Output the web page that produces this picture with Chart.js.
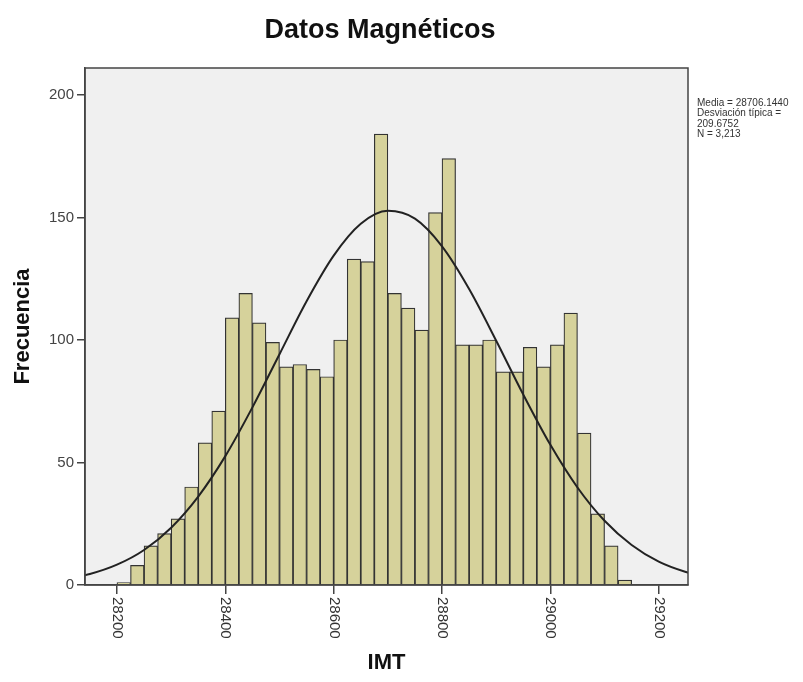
<!DOCTYPE html>
<html>
<head>
<meta charset="utf-8">
<script src="https://cdn.jsdelivr.net/npm/chart.js@4.4.1/dist/chart.umd.min.js"></script>
<style>
  html, body { margin: 0; padding: 0; background: #fff; }
  canvas { display: block; }
</style>
</head>
<body>
<canvas id="histChart" width="803" height="682"></canvas>
<script>
// histogram bins (centres, width 25) and counts
const binCenters = [28212.5, 28237.5, 28262.5, 28287.5, 28312.5, 28337.5, 28362.5, 28387.5,
  28412.5, 28437.5, 28462.5, 28487.5, 28512.5, 28537.5, 28562.5, 28587.5, 28612.5, 28637.5,
  28662.5, 28687.5, 28712.5, 28737.5, 28762.5, 28787.5, 28812.5, 28837.5, 28862.5, 28887.5,
  28912.5, 28937.5, 28962.5, 28987.5, 29012.5, 29037.5, 29062.5, 29087.5, 29112.5, 29137.5];
const counts = [1, 8, 16, 21, 27, 40, 58, 71, 109, 119, 107, 99, 89, 90, 88, 85, 100, 133, 132,
  184, 119, 113, 104, 152, 174, 98, 98, 100, 87, 87, 97, 89, 98, 111, 62, 29, 16, 2];

// normal curve points
const curveX = [28100, 28150, 28200, 28250, 28300, 28350, 28400, 28450, 28500, 28550, 28600,
  28650, 28700, 28750, 28800, 28850, 28900, 28950, 29000, 29050, 29100, 29150, 29200, 29250, 29300];
const curveY = [2.3, 4.5, 8.3, 14.3, 23.4, 36.1, 52.6, 72.5, 94.2, 115.8, 134.4,
  147.4, 152.7, 149.5, 138.2, 120.8, 99.7, 77.7, 57.2, 39.8, 26.2, 16.3, 9.5, 5.3, 2.8];

const statsLines = ['Media = 28706.1440', 'Desviación típica =', '209.6752', 'N = 3,213'];

const FONT = '"Liberation Sans", Arial, sans-serif';

// background, frame, title, rotated x labels and the stats box
const decor = {
  id: 'decor',
  beforeDraw(chart) {
    const {ctx, chartArea: a} = chart;
    ctx.save();
    ctx.fillStyle = '#fff';
    ctx.fillRect(0, 0, chart.width, chart.height);
    ctx.fillStyle = '#f0f0f0';
    ctx.fillRect(a.left, a.top, a.right - a.left, a.bottom - a.top);
    ctx.restore();
  },
  afterDraw(chart) {
    const {ctx, chartArea: a} = chart;
    ctx.save();
    ctx.strokeStyle = '#444';
    ctx.lineWidth = 1.5;
    ctx.strokeRect(a.left, a.top, a.right - a.left, a.bottom - a.top);

    // title
    ctx.fillStyle = '#111';
    ctx.font = 'bold 27px ' + FONT;
    ctx.textAlign = 'center';
    ctx.textBaseline = 'alphabetic';
    ctx.fillText('Datos Magnéticos', 380, 38);

    // x tick labels, rotated to read downwards
    const xs = chart.scales.x;
    ctx.fillStyle = '#333';
    ctx.font = '15px ' + FONT;
    ctx.textAlign = 'left';
    ctx.textBaseline = 'middle';
    xs.ticks.forEach(t => {
      const px = xs.getPixelForValue(t.value);
      ctx.save();
      ctx.translate(px, a.bottom + 12);
      ctx.rotate(Math.PI / 2);
      ctx.fillText(String(t.value), 0, 0);
      ctx.restore();
    });

    // stats
    ctx.fillStyle = '#333';
    ctx.font = '10px ' + FONT;
    ctx.textAlign = 'left';
    statsLines.forEach((s, i) => ctx.fillText(s, a.right + 9, 103 + i * 10.5));
    ctx.restore();
  }
};

const ctx = document.getElementById('histChart').getContext('2d');
new Chart(ctx, {
  type: 'bar',
  data: {
    datasets: [
      {
        type: 'line',
        data: curveX.map((x, i) => ({x: x, y: curveY[i]})),
        borderColor: '#222',
        borderWidth: 2,
        pointRadius: 0,
        cubicInterpolationMode: 'monotone',
        order: 0
      },
      {
        type: 'bar',
        data: binCenters.map((x, i) => ({x: x, y: counts[i]})),
        backgroundColor: '#d6d29b',
        borderColor: '#333',
        borderWidth: 1.2,
        barPercentage: 1,
        categoryPercentage: 1,
        order: 1
      }
    ]
  },
  options: {
    responsive: false,
    animation: false,
    layout: {padding: {left: 0, top: 68, right: 115, bottom: 0}},
    plugins: {legend: {display: false}, title: {display: false}, tooltip: {enabled: false}},
    scales: {
      x: {
        type: 'linear',
        min: 28141,
        max: 29254,
        offset: false,
        ticks: {stepSize: 200, includeBounds: false, display: false, autoSkip: false},
        grid: {offset: false, drawOnChartArea: false, drawTicks: true, tickLength: 9, color: '#444', lineWidth: 1.5},
        border: {display: true, color: '#444', width: 1.5},
        title: {display: true, text: 'IMT', color: '#111', font: {family: FONT, size: 22, weight: 'bold'}, padding: {bottom: 6}},
        afterFit(s) { s.height = 97; }
      },
      y: {
        min: 0,
        max: 211,
        ticks: {stepSize: 50, includeBounds: false, color: '#444', font: {family: FONT, size: 15}, padding: 3},
        grid: {drawOnChartArea: false, drawTicks: true, tickLength: 8, color: '#444', lineWidth: 1.5},
        border: {display: true, color: '#444', width: 1.5},
        title: {display: true, text: 'Frecuencia', color: '#111', font: {family: FONT, size: 22, weight: 'bold'}, padding: {top: 10}},
        afterFit(s) { s.width = 85; }
      }
    }
  },
  plugins: [decor]
});
</script>
</body>
</html>
